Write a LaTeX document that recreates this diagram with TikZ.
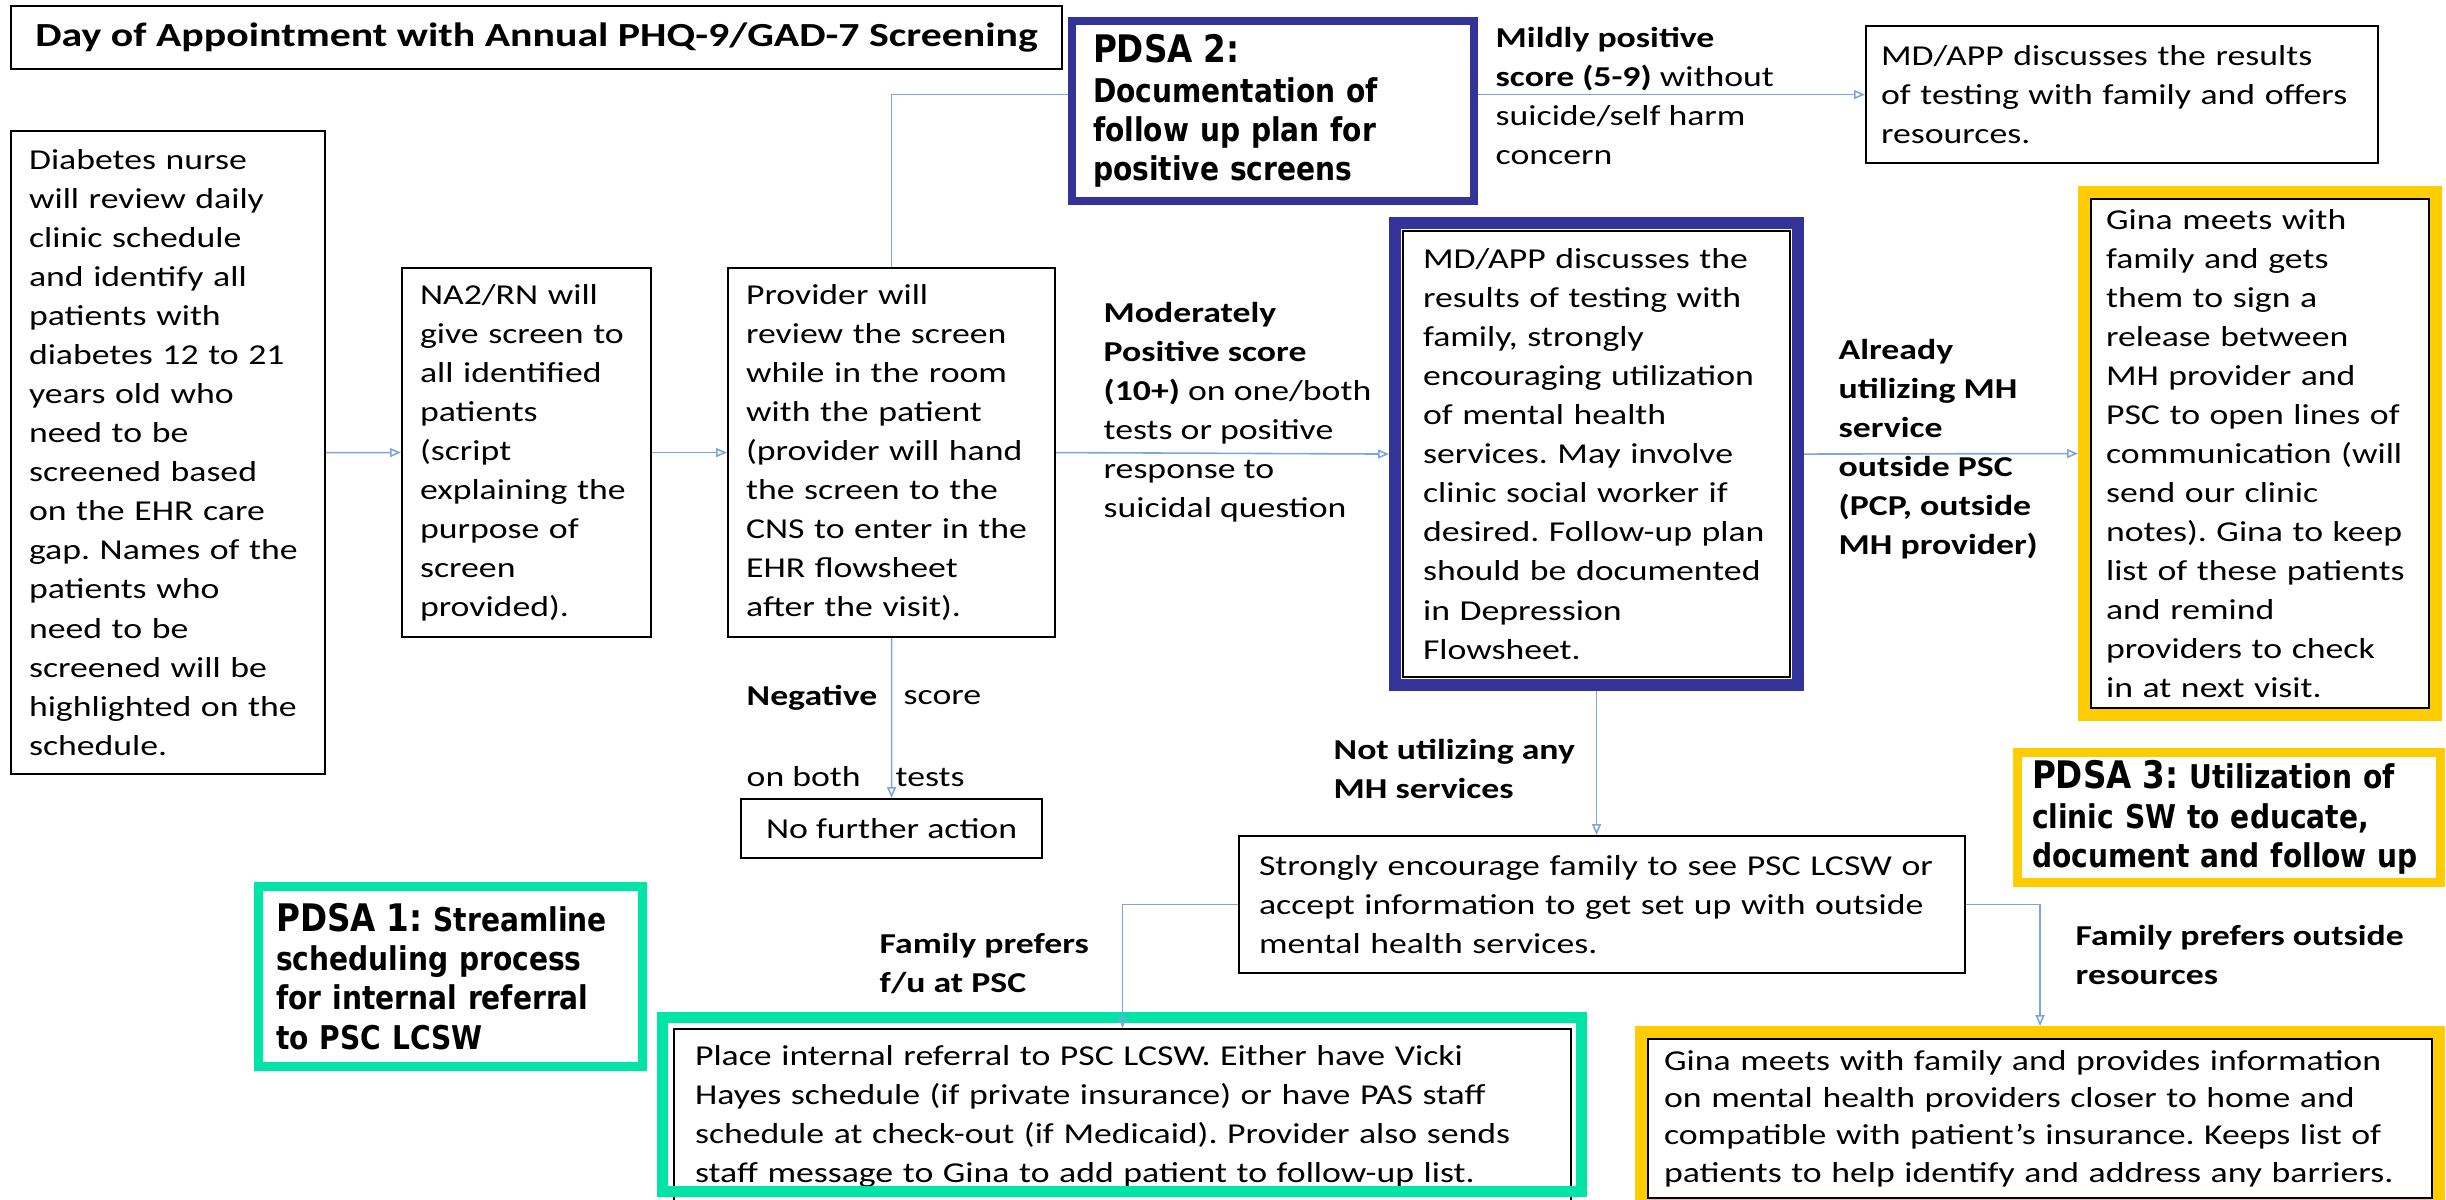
\documentclass[tikz,border=0pt]{standalone}
\usepackage{fontspec}
\setmainfont{Carlito}[FakeStretch=1.24]
\newfontfamily\pdsafont{DejaVu Sans}[FakeStretch=0.86]
\usetikzlibrary{arrows.meta,fit}
\frenchspacing
\definecolor{pdsablue}{RGB}{51,51,153}
\definecolor{pdsayellow}{RGB}{255,204,0}
\definecolor{pdsateal}{RGB}{0,228,168}
\definecolor{linkblue}{RGB}{125,165,220}
\newcommand{\bodyfont}{\fontsize{8.2}{11.1}\selectfont}
\newcommand{\titlefont}{\bfseries\fontsize{9.6}{11}\selectfont}
\newcommand{\pdsabody}{\pdsafont\bfseries\fontsize{9.3}{11.2}\selectfont}
\newcommand{\pdsahead}{\fontsize{10.8}{11.2}\selectfont}
\tikzset{
  box/.style={draw=black, line width=0.6pt, fill=white, anchor=north west, align=left, inner ysep=0pt, font=\bodyfont},
  lbl/.style={inner sep=0pt, anchor=west, align=left, font=\bodyfont},
  pdsabox/.style={draw=#1, fill=white, anchor=north west, align=left, inner ysep=0pt, font=\pdsabody},
  pdsaframe/.style={draw=#1, line width=1.2mm, inner sep=0.6mm},
  link/.style={draw=linkblue, line width=0.45pt, -{Triangle[open,length=1.1mm,width=0.9mm]}},
}
\begin{document}
\begin{tikzpicture}[x=0.1mm, y=-0.1mm]
\useasboundingbox (0,0) rectangle (2446,1199);
% Title
\node[box, align=center, font=\titlefont, minimum width=105.1mm, minimum height=6.3mm, inner xsep=0pt] (title) at (10,5) {Day of Appointment with Annual PHQ-9/GAD-7 Screening};
% Main row
\node[box, text width=27.8mm, inner xsep=1.8mm, minimum height=64.3mm] (diab) at (10,130) {Diabetes nurse\\ will review daily\\ clinic schedule\\ and identify all\\ patients with\\ diabetes 12 to 21\\ years old who\\ need to be\\ screened based\\ on the EHR care\\ gap. Names of the\\ patients who\\ need to be\\ screened will be\\ highlighted on the\\ schedule.};
\node[box, text width=21.3mm, inner xsep=1.8mm, minimum height=36.9mm] (na2) at (401,267) {NA2/RN will\\ give screen to\\ all identified\\ patients\\ (script\\ explaining the\\ purpose of\\ screen\\ provided).};
\node[box, text width=29.1mm, inner xsep=1.8mm, minimum height=36.9mm] (prov) at (727,267) {Provider will\\ review the screen\\ while in the room\\ with the patient\\ (provider will hand\\ the screen to the\\ CNS to enter in the\\ EHR flowsheet\\ after the visit).};
\node[box, align=center, minimum width=30.1mm, minimum height=5.9mm] (nofurther) at (740,798) {No further action};
\node[box, text width=48.2mm, inner xsep=1.5mm, minimum height=13.7mm] (mdtop) at (1865,25) {MD/APP discusses the results\\ of testing with family and offers\\ resources.};
\node[box, text width=34.7mm, inner xsep=2mm, minimum height=44.6mm] (mdbig) at (1402,230) {MD/APP discusses the\\ results of testing with\\ family, strongly\\ encouraging utilization\\ of mental health\\ services. May involve\\ clinic social worker if\\ desired. Follow-up plan\\ should be documented\\ in Depression\\ Flowsheet.};
\node[pdsaframe=pdsablue, fit=(mdbig), inner sep=0.7mm] (mdframe) {};
\node[box, text width=30.8mm, inner xsep=1.5mm, minimum height=50.9mm] (ginaR) at (2090,198) {Gina meets with\\ family and gets\\ them to sign a\\ release between\\ MH provider and\\ PSC to open lines of\\ communication (will\\ send our clinic\\ notes). Gina to keep\\ list of these patients\\ and remind\\ providers to check\\ in at next visit.};
\node[pdsaframe=pdsayellow, fit=(ginaR)] (ginaRframe) {};
% Lower row
\node[box, text width=68.6mm, inner xsep=2mm, minimum height=13.7mm] (strong) at (1238,835) {Strongly encourage family to see PSC LCSW or\\ accept information to get set up with outside\\ mental health services.};
\node[box, text width=85.5mm, inner xsep=2.1mm, minimum height=17.5mm] (place) at (673,1028) {Place internal referral to PSC LCSW. Either have Vicki\\ Hayes schedule (if private insurance) or have PAS staff\\ schedule at check-out (if Medicaid). Provider also sends\\ staff message to Gina to add patient to follow-up list.};
\coordinate (placeend) at (1570,1180);
\node[pdsaframe=pdsateal, line width=1.1mm, fit=(place.north west)(placeend), inner sep=1.1mm] (placeframe) {};
\node[box, font=\fontsize{8.2}{10.6}\selectfont, text width=75.2mm, inner xsep=1.6mm, minimum height=15.9mm] (ginaB) at (1647,1038) {Gina meets with family and provides information\\ on mental health providers closer to home and\\ compatible with patient’s insurance. Keeps list of\\ patients to help identify and address any barriers.};
\node[pdsaframe=pdsayellow, fit=(ginaB)] (ginaBframe) {};
% PDSA boxes
\node[pdsabox=pdsateal, line width=0.85mm, text width=34.8mm, inner xsep=1.8mm, minimum height=18mm] (pdsa1) at (254,882) {{\pdsahead PDSA 1:} Streamline\\ scheduling process\\ for internal referral\\ to PSC LCSW};
\node[pdsabox=pdsayellow, line width=0.9mm, text width=39.4mm, inner xsep=1.45mm, minimum height=13mm] (pdsa3) at (2013,748) {{\pdsahead PDSA 3:} Utilization of\\ clinic SW to educate,\\ document and follow up};
% Branch labels
\node[lbl] (mild) at (1495,95.5) {\textbf{Mildly positive}\\ \textbf{score (5-9)} without\\ suicide/self harm\\ concern};
\node[lbl] (moder) at (1103,412) {\textbf{Moderately}\\ \textbf{Positive score}\\ \textbf{(10+)} on one/both\\ tests or positive\\ response to\\ suicidal question};
\node[lbl, font=\bodyfont\bfseries] (already) at (1838,449.5) {Already\\ utilizing MH\\ service\\ outside PSC\\ (PCP, outside\\ MH provider)};
\node[lbl, font=\bodyfont\bfseries] (notutil) at (1333,769) {Not utilizing any\\ MH services};
\node[lbl, font=\bodyfont\bfseries] (prefpsc) at (879,964) {Family prefers\\ f/u at PSC};
\node[lbl, font=\bodyfont\bfseries] (prefout) at (2075,955) {Family prefers outside\\ resources};
\node[lbl, font=\bodyfont\bfseries] (neg) at (746,698) {Negative};
\node[lbl] (negscore) at (903,698) {score};
\node[lbl] (onboth) at (746,777) {on both};
\node[lbl] (tests) at (895,777) {tests};
% Connectors
\draw[link] (diab.east) -- (na2.west);
\draw[link] (na2.east) -- (prov.west);
\draw[link] (prov.north) |- (mdtop.west);
\draw[link] (prov.east) -- (mdframe.west);
\draw[link] (prov.south) -- (nofurther.north);
\draw[link] (mdframe.east) -- (ginaRframe.west);
\draw[link] (mdframe.south) -- (mdframe.south |- strong.north);
\draw[link] (strong.west) -| (place.north);
\draw[link] (strong.east) -| (ginaBframe.north);
% PDSA 2 sits over the upper connector
\node[pdsabox=pdsablue, line width=0.8mm, text width=36mm, inner xsep=2.1mm, minimum height=18mm] (pdsa2) at (1068,17) {{\pdsahead PDSA 2:}\\ Documentation of\\ follow up plan for\\ positive screens};
\end{tikzpicture}
\end{document}
